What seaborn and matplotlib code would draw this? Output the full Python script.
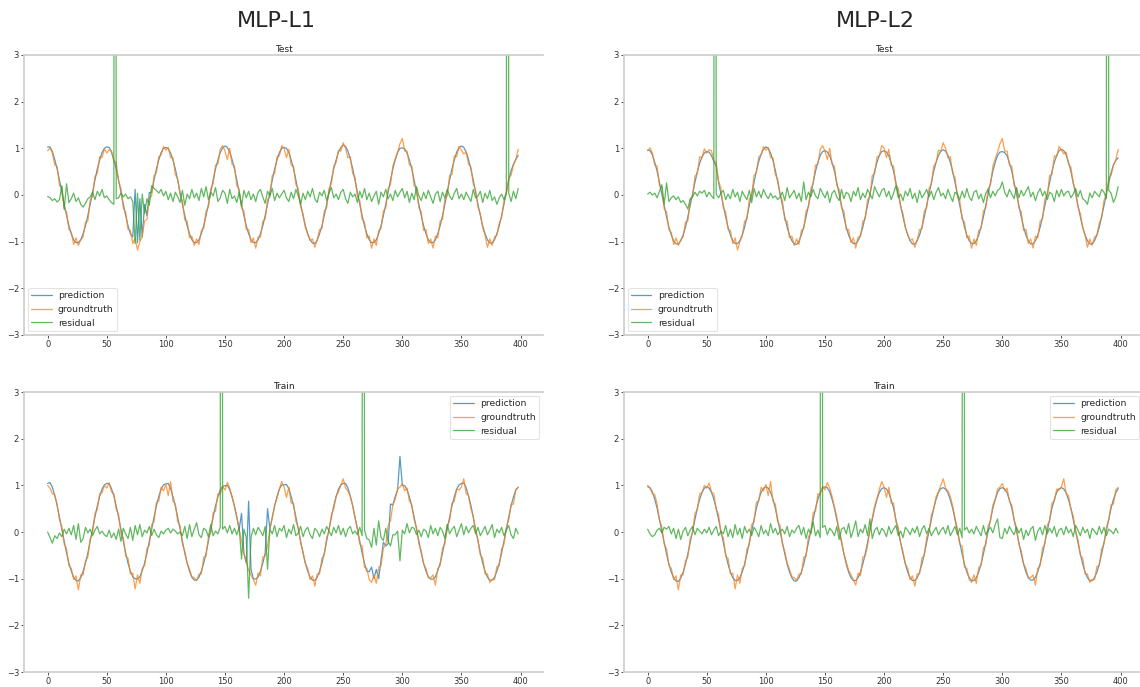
import matplotlib
matplotlib.use("Agg")
import matplotlib.pyplot as plt
import numpy as np
import pandas as pd
import seaborn as sns

# ---------------- data (values in hundredths, x = 0, 2, ..., 398) ----------------
SCALE = 100.0
x_vals = list(range(0, 400, 2))

gt_test = [
    95, 101, 90, 64, 62, 20, 16, -30, -36, -74, -80, -106, -92, -108, -96, -90, -58, -56, -10, -4, 40, 46, 82, 80, 99,
    90, 97, 95, 72, 70, 30, 14, -28, -36, -74, -76, -104, -92, -118, -100, -88, -56, -52, -8, -2, 42, 48, 82, 86, 104,
    96, 102, 80, 80, 44, 34, 0, -12, -54, -56, -92, -88, -108, -94, -106, -76, -72, -34, -26, 14, 24, 64, 66, 98, 106,
    94, 76, 100, 66, 62, 20, 12, -28, -34, -74, -74, -102, -92, -114, -90, -90, -56, -52, -10, -4, 42, 46, 82, 84, 106,
    100, 80, 98, 64, 62, 22, 14, -26, -40, -70, -84, -98, -94, -112, -96, -74, -72, -34, -28, 14, 24, 62, 70, 96, 94,
    112, 100, 80, 82, 46, 38, -4, -12, -52, -58, -92, -88, -114, -94, -108, -76, -72, -34, -28, 14, 22, 62, 78, 92, 110,
    121, 94, 94, 64, 62, 20, 14, -28, -36, -76, -74, -104, -94, -114, -88, -92, -56, -52, -8, -2, 42, 44, 84, 82, 104,
    96, 88, 92, 66, 60, 24, 10, -26, -40, -70, -86, -112, -94, -108, -90, -86, -60, -48, -12, 2, 36, 42, 64, 76, 98,
]

gt_train = [
    100, 94, 82, 80, 60, 26, 12, -26, -36, -72, -78, -102, -94, -124, -92, -92, -62, -54, -14, -2, 40, 48, 82, 84, 100,
    94, 105, 86, 82, 48, 38, -4, -12, -52, -56, -90, -88, -122, -92, -110, -78, -72, -36, -28, 16, 22, 64, 66, 96, 88,
    102, 78, 108, 66, 60, 22, 14, -26, -42, -66, -80, -96, -98, -104, -90, -90, -54, -52, -10, -2, 42, 44, 82, 80, 98,
    90, 106, 94, 76, 54, 32, 4, -18, -46, -64, -82, -92, -102, -114, -88, -94, -54, -52, -30, 8, 30, 56, 72, 92, 108,
    96, 74, 96, 62, 62, 22, 10, -24, -42, -68, -78, -102, -94, -116, -90, -90, -56, -50, -12, 2, 36, 50, 76, 86, 100,
    114, 94, 88, 76, 56, 30, 8, -26, -30, -76, -78, -102, -108, -92, -110, -76, -72, -34, -28, 14, 24, 58, 70, 92, 96,
    104, 88, 94, 66, 58, 26, 10, -26, -40, -68, -78, -98, -98, -92, -114, -78, -72, -34, -26, 14, 24, 62, 66, 92, 90,
    96, 114, 82, 78, 50, 34, 2, -16, -50, -56, -90, -90, -108, -102, -102, -74, -72, -36, -26, 10, 26, 58, 60, 90, 96,
]

pred_test_l1 = [
    103, 103, 93, 76, 56, 32, 6, -20, -44, -66, -83, -96, -102, -102, -96, -83, -66, -44, -20, 6, 32, 56, 75, 91, 100,
    103, 102, 92, 75, 56, 32, 6, -20, -44, -66, -83, -90, 12, -102, -8, -90, -20, -44, 5, 6, 32, 56, 75, 91, 100,
    102, 99, 90, 75, 56, 32, 6, -20, -44, -66, -83, -96, -102, -102, -96, -83, -66, -44, -20, 6, 32, 56, 75, 91, 101,
    105, 102, 92, 76, 56, 32, 6, -20, -44, -66, -83, -96, -102, -102, -96, -83, -66, -44, -20, 6, 32, 56, 75, 91, 100,
    102, 100, 91, 75, 56, 32, 6, -20, -44, -66, -83, -96, -103, -104, -97, -83, -66, -44, -20, 6, 32, 56, 75, 92, 102,
    107, 104, 94, 77, 57, 32, 6, -20, -44, -66, -83, -96, -102, -102, -96, -83, -66, -44, -20, 6, 32, 56, 75, 91, 100,
    101, 99, 90, 75, 56, 32, 6, -20, -44, -66, -83, -96, -102, -102, -96, -83, -66, -44, -20, 6, 32, 56, 75, 92, 102,
    105, 102, 92, 76, 56, 32, 6, -20, -44, -66, -83, -96, -103, -103, -96, -83, -66, -44, -20, 6, 32, 52, 66, 76, 85,
]

pred_test_l2 = [
    96, 95, 86, 70, 51, 27, 2, -23, -47, -69, -86, -98, -105, -105, -98, -86, -69, -47, -23, 2, 27, 50, 68, 82, 90,
    93, 92, 84, 72, 62, 27, 2, -23, -47, -69, -86, -98, -104, -104, -98, -86, -69, -47, -23, 2, 27, 52, 72, 88, 98,
    103, 100, 90, 74, 53, 28, 2, -23, -47, -69, -86, -98, -105, -106, -99, -86, -69, -47, -23, 2, 27, 51, 70, 85, 93,
    95, 92, 84, 69, 51, 27, 2, -23, -47, -69, -86, -98, -104, -104, -98, -86, -69, -47, -23, 2, 27, 51, 70, 85, 93,
    95, 92, 84, 69, 51, 27, 2, -23, -47, -69, -86, -98, -105, -105, -98, -86, -69, -47, -23, 2, 27, 51, 70, 85, 94,
    97, 94, 85, 70, 51, 27, 2, -23, -47, -69, -86, -98, -104, -104, -98, -86, -69, -47, -23, 2, 27, 51, 70, 85, 92,
    93, 91, 84, 69, 51, 27, 2, -23, -47, -69, -86, -98, -105, -105, -98, -86, -69, -47, -23, 2, 27, 51, 70, 85, 95,
    98, 95, 86, 70, 51, 27, 2, -23, -47, -69, -86, -98, -105, -105, -98, -86, -69, -47, -23, 2, 27, 48, 64, 74, 80,
]

pred_train_l1 = [
    104, 106, 96, 78, 57, 32, 6, -20, -45, -67, -84, -97, -104, -105, -98, -84, -67, -45, -20, 6, 32, 56, 76, 92, 101,
    104, 104, 93, 77, 56, 32, 6, -20, -45, -67, -84, -96, -100, -101, -96, -83, -67, -45, -20, 6, 32, 56, 76, 92, 101,
    103, 104, 93, 76, 56, 32, 6, -20, -45, -67, -84, -97, -103, -103, -97, -84, -67, -45, -20, 6, 32, 56, 75, 90, 98,
    99, 100, 91, 75, 56, 32, 6, 40, -45, -67, 66, -80, -100, -101, -97, -84, -67, -45, 50, 6, 32, 56, 76, 92, 101,
    101, 102, 93, 76, 56, 32, 6, -20, -45, -67, -84, -97, -103, -104, -97, -84, -67, -45, -20, 6, 32, 56, 76, 92, 101,
    104, 104, 94, 77, 57, 32, 6, -20, -45, -67, -84, -85, -75, -100, -80, -100, -60, -22, -30, -25, 60, 58, 76, 90, 162,
    100, 99, 91, 75, 56, 32, 6, -20, -45, -67, -84, -96, -101, -101, -96, -83, -67, -45, -20, 6, 32, 56, 76, 92, 101,
    104, 105, 95, 77, 57, 32, 6, -20, -45, -67, -84, -97, -103, -103, -97, -84, -67, -45, -20, 6, 32, 56, 75, 90, 96,
]

pred_train_l2 = [
    97, 95, 86, 70, 51, 27, 2, -23, -47, -69, -86, -98, -105, -106, -99, -86, -69, -47, -23, 2, 27, 51, 70, 85, 94,
    97, 94, 85, 70, 51, 27, 2, -23, -47, -69, -86, -98, -104, -104, -98, -86, -69, -47, -23, 2, 27, 51, 70, 85, 94,
    97, 94, 85, 70, 51, 27, 2, -23, -47, -69, -86, -98, -105, -105, -98, -86, -69, -47, -23, 2, 27, 51, 70, 85, 94,
    97, 95, 86, 70, 51, 27, 2, -23, -47, -69, -86, -98, -104, -104, -98, -86, -69, -47, -23, 2, 27, 51, 70, 85, 93,
    95, 92, 84, 69, 51, 27, 2, -23, -47, -69, -86, -98, -104, -104, -98, -86, -69, -47, -23, 2, 27, 51, 70, 85, 93,
    95, 92, 84, 69, 51, 27, 2, -23, -47, -69, -86, -98, -104, -104, -98, -86, -69, -47, -23, 2, 27, 51, 70, 85, 93,
    95, 92, 84, 69, 51, 27, 2, -23, -47, -69, -86, -98, -103, -103, -97, -85, -68, -47, -23, 2, 27, 51, 70, 85, 93,
    95, 92, 84, 69, 51, 27, 2, -23, -47, -69, -86, -98, -104, -104, -98, -86, -69, -47, -23, 2, 27, 51, 70, 84, 93,
]

res_test_l1 = [
    -3, -6, -12, -8, -15, -10, 20, -30, 24, -16, -8, 4, -14, -6, -20, -26, -18, -8, -4, 6, -10, 8, -2, 12, -6,
    -2, -10, -16, -20, -8, -6, 4, -4, 2, -8, -4, -14, -104, 4, -97, 2, -40, -8, -22, 20, 14, 10, 4, 12, -2,
    8, -10, 4, -14, 6, -4, -16, 10, -22, 2, -8, 12, -6, 4, -12, 14, -4, 18, -10, 6, -2, 16, -14, -6, 10,
    4, -18, 12, -8, -2, -16, 6, -24, 10, -6, 8, -10, 2, -14, 6, 12, -4, -18, 8, -2, 14, -12, 4, -6, 2,
    10, -6, -14, 6, -8, 12, -2, -20, 4, -10, 8, -4, 14, -8, -16, 6, -2, 10, -12, 4, 16, -6, 2, -10, 6,
    12, -8, -18, 6, -4, 2, -16, 8, -6, 14, -10, 4, -14, -2, 8, -20, 6, -4, 12, -8, 2, -12, 10, -4, 6,
    14, -6, 8, -16, 4, -10, 18, -2, -12, 6, -8, 10, -4, -18, 2, 8, -14, 6, -6, 12, -2, -10, 4, 14, -8,
    2, -10, 6, -4, -14, 12, -6, -2, 8, -16, 4, -8, 10, -12, -4, -20, -6, 2, -10, 6, 4, -14, 8, -8, 14,
]

res_test_l2 = [
    2, 6, 0, 4, -6, 8, 22, -20, 26, -14, -6, -2, -10, -4, -16, -12, -20, -30, -8, -4, 6, -2, 8, 4, 10,
    -4, 6, -2, -8, 2, -6, 4, 10, -10, 2, -8, 12, -4, 6, -14, 8, -2, -10, 10, -16, 14, -4, 8, -6, 12,
    0, -8, 4, -6, -2, -10, -4, 6, -12, 16, -6, 2, 10, -8, 4, -14, 28, -10, 6, -4, 12, -2, -8, 14, 4,
    -6, 8, -16, 4, 10, -4, -12, 12, -8, 6, 2, -14, 8, -2, 16, -10, 4, -6, 12, 2, -8, 18, 6, -4, 10,
    14, -4, 8, -10, 4, 20, -6, 2, -12, 8, -2, 14, -8, 4, -16, 10, -6, 2, 12, -4, 8, -10, 6, 16, -2,
    4, -8, 12, -2, -14, 6, 2, -10, 8, -6, 14, -4, -12, 6, 10, -8, 2, -16, 4, 12, -6, 8, -2, 10, 14,
    28, 6, -4, 12, 2, -8, 16, -6, 10, -2, 8, 18, -4, 6, -12, 4, 14, -2, 8, -10, 6, 2, -14, 10, -4,
    12, -2, 6, 8, -6, 2, 14, -4, 10, -8, -12, -20, 4, -6, 8, 2, -4, 12, 6, -8, 10, 4, -16, -4, 18,
]

res_train_l1 = [
    0, -12, -24, -8, -14, -2, -10, 6, -4, 8, -6, 14, -16, 18, -22, -14, 10, -2, 6, -8, 4, 12, -4, 2, -6,
    -10, 4, -12, -2, -16, 6, -20, 8, -4, -14, 10, -18, 14, -6, 16, -10, 4, -2, 12, -8, 6, -6, -12, 2, -4,
    4, 8, -2, 6, 2, -4, 0, -8, 12, -14, 16, -10, 6, 20, -6, -12, 8, 4, -10, 16, -8, 2, -4, 10, 6,
    12, -2, 14, -4, 8, -6, 10, -58, 6, -12, -142, -12, 8, -6, 10, 2, -8, 12, -80, 6, -4, 14, -10, 8, 2,
    14, -12, 6, -4, 16, -8, -2, 12, -10, 4, 10, -6, -14, 8, 2, -10, 6, -4, 12, 2, -8, 10, -2, 14, -6,
    8, -10, 6, 12, -4, 2, -6, 10, -8, 4, -14, -17, -33, 8, -28, 24, -12, -18, 8, -20, -30, -6, -6, 2, -62,
    4, -4, 18, -2, 10, 8, -6, 4, -10, 6, 2, -12, 14, -4, 8, -8, 10, 2, -14, 16, -4, 6, 12, -10, 4,
    18, -6, 12, -2, 8, 14, -4, 10, -8, 2, 12, -6, 4, 16, -12, 6, -2, 10, -8, 4, 14, -6, -14, 8, -4,
]

res_train_l2 = [
    6, -4, -10, -6, 4, 8, -2, 10, 6, 12, -4, 8, -14, 6, -16, 2, 10, -8, 4, 12, -6, 8, 2, -4, 6,
    -2, 10, -6, 4, 12, -8, 2, -4, 14, -10, 6, -12, 16, -6, 8, -14, 12, -2, 6, -8, 10, 2, -10, 14, -4,
    4, -8, 18, -2, 8, -6, 2, 6, -4, 12, -10, 4, -2, 8, 14, -6, 10, -14, 6, -4, 22, -8, 4, -12, 10,
    14, -6, 8, 2, -8, 12, -16, 6, 10, -4, 18, -12, 4, 24, -10, 6, -2, 16, -8, 28, -14, 4, 10, -6, 8,
    2, -10, 12, -4, 6, 14, -8, 2, -12, 10, 4, -6, 8, -2, 12, -10, 6, 14, -4, 8, -8, 2, 10, -6, 4,
    10, -4, 14, -8, 2, 12, -6, 8, -12, 4, 10, -2, 6, -4, 12, 2, -8, 14, -6, 4, 10, -2, 16, 28, -12,
    -14, 8, -4, 12, 2, -6, 10, -2, 8, -16, 4, -8, 6, 12, -18, 2, 10, -6, 14, -4, 8, -2, 12, -10, 4,
    8, -6, 12, -2, 6, -10, 14, 4, -8, 10, -2, 6, -14, 8, 2, -6, 12, -4, 10, -8, 6, 2, -4, 8, -2,
]

# residual outliers inserted between samples (x position); value in hundredths
spike_x_test = [57, 389]
spike_x_train = [147, 267]
spike_value = 4000

column_titles = ["MLP-L1", "MLP-L2"]
row_titles = ["Test", "Train"]
series_names = ["prediction", "groundtruth", "residual"]
series_colors = ["#1f77b4", "#ff7f0e", "#2ca02c"]
x_ticks = [0, 50, 100, 150, 200, 250, 300, 350, 400]
y_ticks = [-3, -2, -1, 0, 1, 2, 3]

panels = {
    (0, 0): (pred_test_l1, gt_test, res_test_l1, spike_x_test),
    (0, 1): (pred_test_l2, gt_test, res_test_l2, spike_x_test),
    (1, 0): (pred_train_l1, gt_train, res_train_l1, spike_x_train),
    (1, 1): (pred_train_l2, gt_train, res_train_l2, spike_x_train),
}

# ---------------- style ----------------
sns.set_theme(style="white")
plt.rcParams["font.family"] = ["DejaVu Sans"]

W, H = 1140, 687
fig = plt.figure(figsize=(W / 100, H / 100), dpi=100)

ax_left_px = [24, 624]
ax_top_px = [55, 392]
ax_w_px = 519
ax_h_px = 280

for (r, c), (pred, gt, res, spikes) in panels.items():
    left = ax_left_px[c] / W
    bottom = 1 - (ax_top_px[r] + ax_h_px) / H
    ax = fig.add_axes([left, bottom, ax_w_px / W, ax_h_px / H])

    p = np.array(pred, dtype=float) / SCALE
    g = np.array(gt, dtype=float) / SCALE
    rx = np.array(x_vals + spikes, dtype=float)
    rv = np.concatenate([np.array(res, dtype=float),
                         np.full(len(spikes), float(spike_value))]) / SCALE
    order = np.argsort(rx, kind="stable")

    frames = [
        (series_names[0], series_colors[0], pd.DataFrame({"x": x_vals, "y": p})),
        (series_names[1], series_colors[1], pd.DataFrame({"x": x_vals, "y": g})),
        (series_names[2], series_colors[2], pd.DataFrame({"x": rx[order], "y": rv[order]})),
    ]
    for name, col, df in frames:
        sns.lineplot(data=df, x="x", y="y", ax=ax, color=col, label=name,
                     linewidth=0.9, alpha=0.75, estimator=None, sort=False)

    ax.set_ylim(-3, 3)
    ax.set_xlim(-20, 419)
    ax.set_xticks(x_ticks)
    ax.set_yticks(y_ticks)
    ax.set_xlabel("")
    ax.set_ylabel("")
    ax.set_title(row_titles[r], fontsize=6.5, pad=2, color="#222222")
    ax.tick_params(axis="both", labelsize=6, length=2, width=0.6, pad=1.5,
                   colors="#333333", bottom=True, left=True)
    for side in ["top", "left", "bottom"]:
        ax.spines[side].set_color("#cccccc")
        ax.spines[side].set_linewidth(1.2)
    ax.spines["right"].set_visible(False)

    loc = "lower left" if r == 0 else "upper right"
    leg = ax.legend(loc=loc, fontsize=6.6, frameon=True, fancybox=True,
                    handlelength=2.2, handletextpad=0.7, borderaxespad=0.4)
    leg.get_frame().set_edgecolor("#dddddd")
    leg.get_frame().set_linewidth(0.8)

fig.text(276 / W, 1 - 27 / H, column_titles[0], ha="center", va="baseline", fontsize=16)
fig.text(875 / W, 1 - 27 / H, column_titles[1], ha="center", va="baseline", fontsize=16)

fig.savefig("out.png", dpi=100)
